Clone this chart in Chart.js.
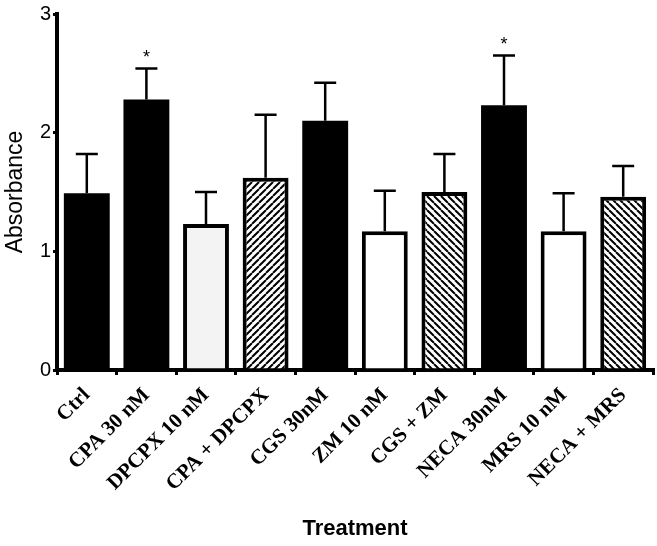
<!DOCTYPE html>
<html>
<head>
<meta charset="utf-8">
<script src="https://cdn.jsdelivr.net/npm/chart.js@4.4.1/dist/chart.umd.min.js"></script>
<style>
  html, body { margin: 0; padding: 0; background: #fff; }
  #wrap { width: 657px; height: 546px; }
</style>
</head>
<body>
<div id="wrap"><canvas id="chart" width="657" height="546"></canvas></div>
<script>
// --- Data ---
const treatments = ["Ctrl", "CPA 30 nM", "DPCPX 10 nM", "CPA + DPCPX", "CGS 30nM",
  "ZM 10 nM", "CGS + ZM", "NECA 30nM", "MRS 10 nM", "NECA + MRS"];
const absorbance = [1.49, 2.28, 1.23, 1.62, 2.10, 1.17, 1.50, 2.23, 1.17, 1.46];
const sem = [0.33, 0.26, 0.27, 0.53, 0.32, 0.34, 0.32, 0.42, 0.32, 0.26];
const significance = ["", "*", "", "", "", "", "", "*", "", ""];
const yTicks = [0, 1, 2, 3];

// --- Styling ---
const barFills = ["solid", "solid", "light", "hatchUp", "solid", "open", "hatchDown", "solid", "open", "hatchDown"];

const canvas = document.getElementById("chart");
const ctx = canvas.getContext("2d");

function makeHatch(direction) {
  const size = 7;
  const tile = document.createElement("canvas");
  tile.width = size;
  tile.height = size;
  const g = tile.getContext("2d");
  g.fillStyle = "#fff";
  g.fillRect(0, 0, size, size);
  g.strokeStyle = "#000";
  g.lineWidth = 2;
  g.beginPath();
  for (const k of [-size, 0, size]) {
    if (direction === "up") {
      g.moveTo(k, size);
      g.lineTo(k + size, 0);
    } else {
      g.moveTo(k, 0);
      g.lineTo(k + size, size);
    }
  }
  g.stroke();
  return ctx.createPattern(tile, "repeat");
}

const fillFor = {
  solid: "#000",
  light: "#f3f3f3",
  open: "#fff",
  hatchUp: makeHatch("up"),
  hatchDown: makeHatch("down"),
};

// --- Error bars and significance marks ---
const errorBarPlugin = {
  id: "errorBars",
  afterDatasetsDraw(chart) {
    const meta = chart.getDatasetMeta(0);
    const y = chart.scales.y;
    const c = chart.ctx;
    c.save();
    c.strokeStyle = "#000";
    c.lineWidth = 2.5;
    meta.data.forEach((bar, i) => {
      const top = y.getPixelForValue(absorbance[i] + sem[i]);
      c.beginPath();
      c.moveTo(bar.x, bar.y);
      c.lineTo(bar.x, top);
      c.moveTo(bar.x - 11, top);
      c.lineTo(bar.x + 11, top);
      c.stroke();
      if (significance[i]) {
        c.fillStyle = "#000";
        c.font = "18px 'Liberation Sans', Arial, sans-serif";
        c.textAlign = "center";
        c.textBaseline = "bottom";
        c.fillText(significance[i], bar.x, top - 2);
      }
    });
    c.restore();
  },
};

new Chart(ctx, {
  type: "bar",
  data: {
    labels: treatments,
    datasets: [{
      data: absorbance,
      backgroundColor: barFills.map(f => fillFor[f]),
      borderColor: "#000",
      // solid bars need no outline, avoids a seam between border and fill
      borderWidth: barFills.map(f => (f === "solid" ? 0 : 4)),
      barPercentage: 0.77,
      categoryPercentage: 1,
    }],
  },
  options: {
    responsive: false,
    animation: false,
    events: [],
    layout: { padding: { top: 12, right: 4, left: 0, bottom: 0 } },
    plugins: { legend: { display: false }, tooltip: { enabled: false } },
    scales: {
      x: {
        afterFit(scale) { scale.height = 176; },
        grid: { drawOnChartArea: false, drawTicks: true, tickLength: 5, color: "#000", lineWidth: 3 },
        border: { display: true, color: "#000", width: 4 },
        ticks: {
          color: "#000",
          autoSkip: false,
          minRotation: 45,
          maxRotation: 45,
          padding: 8,
          font: { family: "'Liberation Serif', 'Times New Roman', serif", size: 21, weight: "bold" },
        },
        title: {
          display: true,
          text: "Treatment",
          color: "#000",
          padding: { top: 0, bottom: 4 },
          font: { family: "'Liberation Sans', Arial, sans-serif", size: 22, weight: "bold" },
        },
      },
      y: {
        min: yTicks[0],
        max: yTicks[yTicks.length - 1],
        afterFit(scale) { scale.width = 57; },
        afterBuildTicks(scale) { scale.ticks = yTicks.map(v => ({ value: v })); },
        grid: { drawOnChartArea: false, drawTicks: true, tickLength: 4, color: "#000", lineWidth: 3 },
        border: { display: true, color: "#000", width: 4 },
        ticks: {
          color: "#000",
          padding: 2,
          font: { family: "'Liberation Sans', Arial, sans-serif", size: 20 },
        },
        title: {
          display: true,
          text: "Absorbance",
          color: "#000",
          padding: { top: 2, bottom: 0 },
          font: { family: "'Liberation Sans', Arial, sans-serif", size: 23 },
        },
      },
    },
  },
  plugins: [errorBarPlugin],
});
</script>
</body>
</html>
